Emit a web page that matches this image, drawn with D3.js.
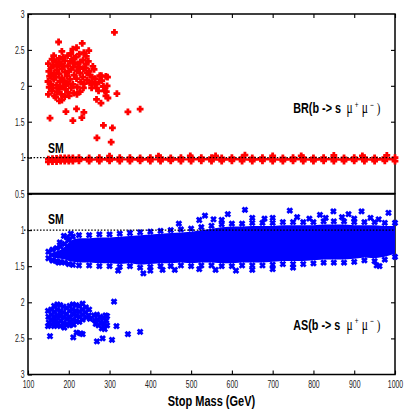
<!DOCTYPE html>
<meta charset="utf-8">
<style>
body { margin: 0; background: #fff; }
text { font-family: "Liberation Sans", Arial, sans-serif; white-space: pre; }
.axis .domain { display: none; }
.axis line { stroke: #000; stroke-width: 1.1; }
.axis text { font-size: 10.5px; fill: #222; font-family: "Liberation Sans", Arial, sans-serif; }
</style>
<svg width="409" height="409"></svg>
<script src="https://cdn.jsdelivr.net/npm/d3@7"></script>
<script>
var massTicks = [100, 200, 300, 400, 500, 600, 700, 800, 900, 1000];
var topTicks = [1, 1.5, 2, 2.5, 3];
var botTicks = [0.5, 1, 1.5, 2, 2.5, 3];
var smValue = 1;

// BR panel: scattered points of the upper cluster
var brCluster = [
  [150,2.31],[151,2.2],[149,2.06],[152,1.98],[150,1.88],[153,2.13],
  [157,2.25],[156,2.02],[158,1.93],[157,2.15],[159,2.37],
  [163,2.42],[162,2.29],[164,2.18],[163,2.09],[161,1.97],[165,1.86],[164,2.36],
  [170,2.33],[171,2.22],[169,2.12],[170,2.01],[172,1.92],[168,1.84],[171,2.27],
  [175,2.61],[177,2.38],[176,2.17],[178,2.06],[175,1.95],[177,1.79],[176,2.29],
  [183,2.48],[182,2.31],[184,2.24],[183,2.11],[185,1.99],[182,1.88],[183,1.8],[186,2.4],
  [190,2.35],[191,2.19],[189,2.07],[192,1.95],[190,1.85],[188,2.27],[193,2.02],
  [197,2.42],[198,2.28],[196,2.14],[199,2.03],[197,1.91],[200,2.2],
  [204,2.34],[205,2.23],[203,2.09],[206,1.97],[201,1.86],[205,2.45],
  [210,2.51],[212,2.38],[211,2.26],[213,2.15],[210,2.02],[212,1.9],[214,2.32],
  [219,2.53],[218,2.4],[220,2.21],[219,2.1],[221,1.98],[220,1.88],[222,2.3],
  [226,2.44],[228,2.33],[227,2.18],[229,2.05],[228,1.92],[225,2.26],
  [233,2.59],[237,2.46],[235,2.36],[236,2.24],[234,2.12],[236,1.97],[238,2.03],
  [243,2.41],[242,2.3],[244,2.18],[245,2.08],[241,2.25],
  [249,2.49],[250,2.2],[252,2.15],[251,2.04],[248,2.34],
  [256,1.97],[258,2.05],[259,2.27],[257,2.12],
  [262,2.23],[265,2.1],[268,1.97],[268,1.81],[264,2.02],
  [273,1.93],[274,2.05],[276,2.14],
  [280,2.14],[281,2.07],[279,1.76],[285,1.99],
  [288,1.93],[291,2.13],[291,1.86],[292,1.92],[294,2.0],[295,2.12],[296,1.83],
  [312,2.745],[318,1.89],[154,1.55],[193,1.64],[210,1.515],[219,1.68],[232,1.557],
  [237,1.63],[269,1.275],[285,1.45],[307,1.415],[304,1.215],[345,1.636],[375,1.674]
];

// band of points sitting near the SM value (both panels)
var bandMass = [150,160,170,180,190,200,210,225,250,275,300,325,350,375,400,425,450,475,500,525,
  550,575,600,625,650,675,700,725,750,775,800,825,850,875,900,925,950,975,1000];
var brBandTop = [0.98,0.985,0.99,0.995,0.995,0.995,0.995,1.0,0.995,1.0,0.995,1.0,1.0,0.995,1.0,1.0,0.995,1.0,1.0,1.0,
  1.0,0.995,1.0,1.0,0.995,1.0,1.0,0.995,1.0,1.0,0.995,1.0,1.0,0.995,1.0,1.0,0.995,1.0,1.0];
var brBandBot = [0.94,0.945,0.945,0.95,0.95,0.95,0.95,0.955,0.95,0.95,0.955,0.95,0.95,0.955,0.95,0.95,0.955,0.95,0.95,0.955,
  0.95,0.95,0.955,0.95,0.95,0.955,0.95,0.95,0.955,0.95,0.95,0.955,0.95,0.95,0.955,0.95,0.95,0.955,0.95];
var brSpikes = [[632,1.035],[300,1.02],[420,1.02],[498,1.025],[560,1.025],[700,1.025],[770,1.025],[850,1.03],[920,1.025],[980,1.03]];

var asBandTop = [1.30,1.27,1.25,1.23,1.19,1.13,1.09,1.07,1.07,1.06,1.06,1.05,1.04,1.03,1.02,1.01,1.00,0.99,0.98,0.96,
  0.94,0.92,0.91,0.91,0.90,0.90,0.90,0.89,0.89,0.89,0.89,0.88,0.88,0.88,0.89,0.89,0.89,0.90,0.90];
var asBandBot = [1.39,1.42,1.43,1.44,1.45,1.47,1.48,1.49,1.49,1.50,1.50,1.51,1.50,1.52,1.51,1.50,1.50,1.49,1.50,1.49,
  1.49,1.50,1.50,1.49,1.49,1.49,1.48,1.47,1.47,1.47,1.46,1.45,1.45,1.45,1.44,1.42,1.43,1.41,1.37];
var asSpikes = [
  [632,0.72],[742,0.73],[849,0.74],[918,0.74],[984,0.76],[816,0.79],[886,0.78],[534,0.8],[590,0.78],
  [470,0.91],[520,0.86],[555,0.85],[575,0.86],[650,0.83],[680,0.84],[700,0.83],[760,0.82],[790,0.84],
  [830,0.83],[870,0.82],[900,0.84],[940,0.83],[960,0.85],
  [321,1.56],[383,1.6],[400,1.56],[430,1.55],[460,1.55],[520,1.54],[560,1.55],[610,1.56],[650,1.55],
  [700,1.54],[750,1.52],[955,1.49],[962,1.5],
  [188,1.08],[195,1.1],[205,1.05],[160,1.42],[175,1.45],[178,1.17],[200,1.14]
];

// AS panel: lower cluster
var asCluster = [
  [149,2.12],[150,2.2],[151,2.28],[149,2.33],
  [157,2.1],[158,2.17],[156,2.25],[158,2.31],
  [164,2.05],[165,2.13],[163,2.2],[166,2.27],[164,2.33],
  [172,2.03],[171,2.1],[173,2.18],[170,2.25],[172,2.32],
  [179,2.04],[180,2.12],[178,2.19],[181,2.26],[179,2.33],
  [187,2.06],[186,2.14],[188,2.21],[187,2.29],[189,2.35],
  [195,2.08],[194,2.16],[196,2.23],[195,2.3],
  [202,2.05],[203,2.12],[201,2.2],[204,2.27],[202,2.32],
  [210,2.03],[209,2.1],[211,2.17],[210,2.24],[212,2.31],
  [218,2.04],[217,2.12],[219,2.19],[218,2.26],
  [226,2.05],[225,2.13],[227,2.2],[226,2.27],
  [234,2.02],[233,2.1],[235,2.17],[234,2.24],
  [242,2.07],[241,2.14],[243,2.21],
  [250,2.1],[249,2.18],[252,2.23],
  [262,2.18],[264,2.25],[266,2.3],[269,2.17],[271,2.24],[273,2.32],[277,2.2],[279,2.28],[281,2.36],
  [284,2.22],[286,2.3],[288,2.37],[292,2.25],[294,2.32],[294,2.19],[290,2.18],
  [311,1.99],[317,2.33],[345,2.44],[375,2.41],[154,2.47],[211,2.485],[219,2.42],[234,2.44],
  [229,2.43],[269,2.54],[283,2.5],[306,2.52]
];

var svg = d3.select("svg");
var x = d3.scaleLinear().domain([100, 1000]).range([28, 395]);
var yTop = d3.scaleLinear().domain([0.5, 3]).range([193.5, 14]);
var yBot = d3.scaleLinear().domain([0.5, 3]).range([194, 374.5]);
var sx = 0.7;

var plusPath = "M-3.4,0H3.4M0,-3.4V3.4";
var crossPath = "M-2.4,-2.4L2.4,2.4M-2.4,2.4L2.4,-2.4";

// frames
[[yTop, 14, 193.5], [yBot, 194, 374.5]].forEach(function(p) {
  svg.append("rect")
    .attr("x", x(100)).attr("y", p[1])
    .attr("width", x(1000) - x(100)).attr("height", p[2] - p[1])
    .attr("fill", "none").attr("stroke", "#000").attr("stroke-width", 1.5);
});

// axes
var gx = svg.append("g").attr("class", "axis")
    .attr("transform", "translate(0," + yBot(3) + ")")
    .call(d3.axisBottom(x).tickValues(massTicks).tickSizeInner(-4).tickSizeOuter(0).tickFormat(d3.format("d")));
gx.selectAll("text").attr("y", 13.5).attr("dy", null).attr("transform", "scale(0.66,1)");

svg.append("g").attr("class", "axis")
    .attr("transform", "translate(0," + yTop(3) + ")")
    .call(d3.axisTop(x).tickValues(massTicks).tickSizeInner(-4).tickSizeOuter(0).tickFormat(""));

function sideAxes(y, ticks, rightTicks) {
  var gl = svg.append("g").attr("class", "axis")
      .attr("transform", "translate(" + x(100) + ",0)")
      .call(d3.axisLeft(y).tickValues(ticks).tickSizeInner(-4).tickSizeOuter(0).tickFormat(d3.format("")));
  gl.selectAll("text").attr("x", -3.5 / 0.66).attr("transform", "scale(0.66,1)");
  svg.append("g").attr("class", "axis")
      .attr("transform", "translate(" + x(1000) + ",0)")
      .call(d3.axisRight(y).tickValues(rightTicks).tickSizeInner(-4).tickSizeOuter(0).tickFormat(""));
}
sideAxes(yTop, topTicks, [1, 1.5, 2, 2.5]);
sideAxes(yBot, botTicks, [1, 1.5, 2, 2.5]);

function marks(pts, y, path, color, w) {
  svg.append("g").selectAll("path")
    .data(pts)
    .enter().append("path")
      .attr("transform", function(d) { return "translate(" + x(d[0]) + "," + y(d[1]) + ")"; })
      .attr("d", path)
      .attr("fill", "none")
      .attr("stroke", color)
      .attr("stroke-width", w);
}

function band(y, hi, lo, path, color, w) {
  var rows = bandMass.map(function(m, i) { return {m: m, hi: hi[i], lo: lo[i]}; });
  var pad = y(1) < y(2) ? 3 : -3;
  var area = d3.area()
      .x(function(d) { return x(d.m); })
      .y0(function(d) { return y(d.lo) + pad; })
      .y1(function(d) { return y(d.hi) - pad; });
  svg.append("path").attr("d", area(rows)).attr("fill", color);
  marks(rows.map(function(d) { return [d.m, d.hi]; }), y, path, color, w);
  marks(rows.map(function(d) { return [d.m, d.lo]; }), y, path, color, w);
}

// BR panel
marks(brCluster, yTop, plusPath, "#ff0000", 2.8);
band(yTop, brBandTop, brBandBot, plusPath, "#ff0000", 2.8);
marks(brSpikes, yTop, plusPath, "#ff0000", 2.8);

// AS panel
band(yBot, asBandBot, asBandTop, crossPath, "#0000ff", 2.8);
marks(asSpikes, yBot, crossPath, "#0000ff", 2.8);
marks(asCluster, yBot, crossPath, "#0000ff", 2.8);

// SM reference lines
[yTop, yBot].forEach(function(y) {
  svg.append("line")
    .attr("x1", x(100) - 4).attr("x2", x(1000))
    .attr("y1", y(smValue)).attr("y2", y(smValue))
    .attr("stroke", "#000").attr("stroke-width", 1.4)
    .attr("stroke-dasharray", "1.5,1.7");
});

function smLabel(y, dy) {
  svg.append("text")
    .attr("transform", "translate(48," + (y(smValue) + dy) + ") scale(" + sx + ",1)")
    .attr("font-size", 15).attr("font-weight", "bold")
    .text("SM");
}
smLabel(yTop, -4.6);
smLabel(yBot, -5.7);

function legend(lbl, yBase) {
  var t = svg.append("text")
    .attr("transform", "translate(293.3," + yBase + ") scale(0.72,1)")
    .attr("font-size", 15);
  t.append("tspan").attr("font-weight", "bold").text(lbl + "(b -> s");
  t.append("tspan").attr("x", 74).attr("y", 0).attr("font-family", "Liberation Serif").attr("font-size", 16).text("\u03bc");
  t.append("tspan").attr("x", 85.5).attr("y", -5.5).attr("font-size", 9).text("+");
  t.append("tspan").attr("x", 95).attr("y", 0).attr("font-family", "Liberation Serif").attr("font-size", 16).text("\u03bc");
  t.append("tspan").attr("x", 106.5).attr("y", -5.5).attr("font-size", 9).text("\u2212");
  t.append("tspan").attr("x", 116).attr("y", 0).attr("font-family", "Liberation Serif").text(")");
}
legend("BR", 113.3);
legend("AS", 329.5);

svg.append("text")
  .attr("transform", "translate(211.5,406) scale(0.76,1)")
  .attr("text-anchor", "middle")
  .attr("font-size", 14.5).attr("font-weight", "bold")
  .text("Stop Mass (GeV)");
</script>
